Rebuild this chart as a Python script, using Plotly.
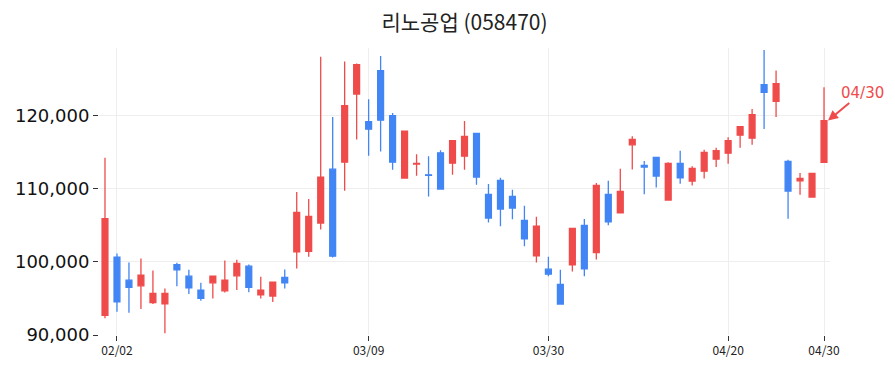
import plotly.graph_objects as go

dates = [
    "2026-01-30",
    "2026-02-02", "2026-02-03", "2026-02-04", "2026-02-05", "2026-02-06",
    "2026-02-09", "2026-02-10", "2026-02-11", "2026-02-12", "2026-02-13",
    "2026-02-19", "2026-02-20",
    "2026-02-23", "2026-02-24", "2026-02-25", "2026-02-26", "2026-02-27",
    "2026-03-03", "2026-03-04", "2026-03-05", "2026-03-06",
    "2026-03-09", "2026-03-10", "2026-03-11", "2026-03-12", "2026-03-13",
    "2026-03-16", "2026-03-17", "2026-03-18", "2026-03-19", "2026-03-20",
    "2026-03-23", "2026-03-24", "2026-03-25", "2026-03-26", "2026-03-27",
    "2026-03-30", "2026-03-31", "2026-04-01", "2026-04-02", "2026-04-03",
    "2026-04-06", "2026-04-07", "2026-04-08", "2026-04-09", "2026-04-10",
    "2026-04-13", "2026-04-14", "2026-04-15", "2026-04-16", "2026-04-17",
    "2026-04-20", "2026-04-21", "2026-04-22", "2026-04-23", "2026-04-24",
    "2026-04-27", "2026-04-28", "2026-04-29", "2026-04-30",
]

open_ = [
    92700, 100650, 97510, 96740, 94420, 94280, 99650, 98060, 96150, 97150,
    96050, 98100, 99420, 95510, 95330, 97880, 101380, 101470, 105340, 112710,
    113670, 123000, 119220, 126190, 120040, 111490, 113400, 111940, 114950, 113530,
    114490, 117590, 109260, 111170, 108980, 105700, 100830, 99010, 96920, 99600,
    105020, 101290, 109260, 106710, 116040, 113220, 114310, 108480, 113490, 111080,
    112440, 114080, 114900, 117360, 116950, 124280, 122000, 113760, 111120, 108890,
    113630,
]
high = [
    114260, 101150, 99920, 100470, 98830, 96370, 99880, 98920, 97150, 98150,
    100200, 100290, 99650, 97970, 97330, 98970, 109570, 108620, 128100, 119860,
    127460, 127190, 122270, 128190, 120410, 117900, 114760, 114490, 115310, 116700,
    119320, 117600, 110670, 111530, 109890, 107710, 106200, 100700, 98920, 104610,
    105890, 110800, 111120, 112760, 117220, 113810, 114310, 113670, 115220, 113120,
    115350, 115630, 117080, 118540, 120950, 129010, 126230, 113990, 112170, 112210,
    123910,
]
low = [
    92280, 93190, 93050, 93550, 94230, 90230, 96690, 95600, 94690, 95010,
    95830, 96150, 95870, 95010, 94510, 96370, 99100, 100700, 104430, 100610,
    109760, 116770, 114540, 115130, 112620, 111390, 111800, 108980, 109980, 111940,
    112620, 110580, 105390, 104890, 105840, 102150, 99920, 98060, 94230, 98690,
    98060, 100330, 105020, 106710, 112670, 109260, 110210, 108480, 110710, 110480,
    111440, 112990, 113440, 115630, 116040, 118220, 119860, 105930, 109210, 108890,
    113630,
]
close = [
    105930, 94550, 96510, 98190, 95690, 95690, 98920, 96460, 95010, 98060,
    97510, 99790, 96510, 96150, 97240, 97150, 106800, 106250, 111620, 100790,
    121410, 127010, 118180, 119410, 113670, 117900, 113500, 111850, 109980, 116630,
    117180, 111620, 106020, 107250, 107390, 103160, 104890, 98330, 94230, 104610,
    99060, 110480, 105480, 109660, 116770, 112990, 111760, 113490, 111530, 112810,
    114990, 115260, 116630, 118540, 120180, 123230, 124410, 109710, 111440, 112120,
    119360,
]

tick_dates = ["2026-02-02", "2026-03-09", "2026-03-30", "2026-04-20", "2026-04-30"]
tick_text = ["02/02", "03/09", "03/30", "04/20", "04/30"]
y_ticks = [90000, 100000, 110000, 120000]

title_text = "리노공업 (058470)"
last_label = "04/30"

RED = "#EF4B4B"
BLUE = "#4285F4"

fig = go.Figure(
    go.Candlestick(
        x=dates,
        open=open_,
        high=high,
        low=low,
        close=close,
        increasing=dict(line=dict(color=RED, width=1.3), fillcolor=RED),
        decreasing=dict(line=dict(color=BLUE, width=1.3), fillcolor=BLUE),
        whiskerwidth=0,
        showlegend=False,
    )
)

fig.add_annotation(
    x=dates[-1],
    y=close[-1],
    text=last_label,
    showarrow=True,
    arrowhead=2,
    arrowsize=1,
    arrowwidth=2,
    arrowcolor=RED,
    ax=34,
    ay=-28,
    xshift=4,
    font=dict(color=RED, size=15, family="DejaVu Sans"),
)

fig.update_layout(
    width=895,
    height=373,
    margin=dict(l=99, r=65, t=48, b=38),
    paper_bgcolor="white",
    plot_bgcolor="white",
    title=dict(
        text=title_text,
        xref="paper",
        x=0.5,
        xanchor="center",
        y=0.94,
        yanchor="middle",
        font=dict(family="Noto Sans CJK KR", size=21, color="#222222"),
    ),
    xaxis=dict(
        type="category",
        rangeslider=dict(visible=False),
        range=[-0.5, len(dates) - 0.5],
        tickmode="array",
        tickvals=tick_dates,
        ticktext=tick_text,
        ticks="outside",
        ticklen=5,
        tickcolor="#333333",
        showgrid=True,
        gridcolor="#EEEEEE",
        showline=False,
        zeroline=False,
        tickfont=dict(family="Noto Sans CJK KR", size=12, color="#222222"),
    ),
    yaxis=dict(
        range=[90000, 129300],
        tickmode="array",
        tickvals=y_ticks,
        tickformat=",d",
        ticks="outside",
        ticklen=5,
        tickcolor="#333333",
        showgrid=True,
        gridcolor="#EEEEEE",
        showline=False,
        zeroline=False,
        tickfont=dict(family="DejaVu Sans", size=18, color="#111111"),
    ),
)

fig.write_html("out.html")
